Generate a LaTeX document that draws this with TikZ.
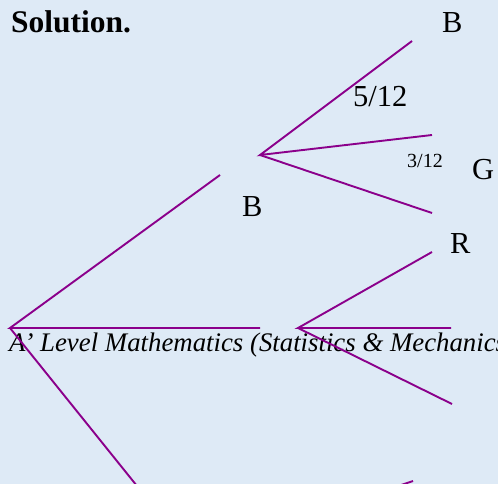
\documentclass[tikz,border=0pt]{standalone}
\usepackage{fontspec}
\setmainfont{Liberation Serif}
\definecolor{bgblue}{RGB}{222,234,246}
\definecolor{branch}{RGB}{139,0,139}
\begin{document}
\begin{tikzpicture}[x=1bp,y=-1bp,
  br/.style={draw=branch,line width=1.9bp},
  lbl/.style={inner sep=0pt,anchor=base west,text=black},
  big/.style={lbl,font=\fontsize{30.5bp}{34bp}\selectfont},
  small/.style={lbl,font=\fontsize{20bp}{24bp}\selectfont}]
\fill[bgblue] (0,0) rectangle (498,484);
\useasboundingbox (0,0) rectangle (498,484);
% texts
\node[lbl,font=\fontsize{31.5bp}{35bp}\selectfont\bfseries] (sol) at (11,33) {Solution.};
\node[lbl,font=\fontsize{26.8bp}{30bp}\selectfont\itshape] (foot) at (9,351) {A’ Level Mathematics (Statistics \& Mechanics};
\node[big] (bt) at (442,33) {B};
\node[big] (p1) at (353,107) {5/12};
\node[small] (p2) at (407,168) {3/12};
\node[big] (g) at (472,180) {G};
\node[big] (bm) at (242,216) {B};
\node[big] (r) at (450,253) {R};
% coordinates
\coordinate (root) at (10,328);
\coordinate (a1) at (220,175);
\coordinate (a2) at (260,328);
\coordinate (a3) at (137,486);
\coordinate (v1) at (260,155);
\coordinate (v1a) at (412,41);
\coordinate (v1b) at (432,135);
\coordinate (v1c) at (432,213);
\coordinate (v2) at (298,328);
\coordinate (v2a) at (432,252);
\coordinate (v2b) at (451,328);
\coordinate (v2c) at (452,404);
\coordinate (v3a) at (398,486);
\coordinate (v3b) at (413,481);
% branches
\draw[br] (a1) -- (root) -- (a2);
\draw[br] (root) -- (a3);
\draw[br] (v1a) -- (v1) -- (v1b);
\draw[br] (v1) -- (v1c);
\draw[br] (v2a) -- (v2) -- (v2b);
\draw[br] (v2) -- (v2c);
\draw[br] (v3a) -- (v3b);
\end{tikzpicture}
\end{document}
